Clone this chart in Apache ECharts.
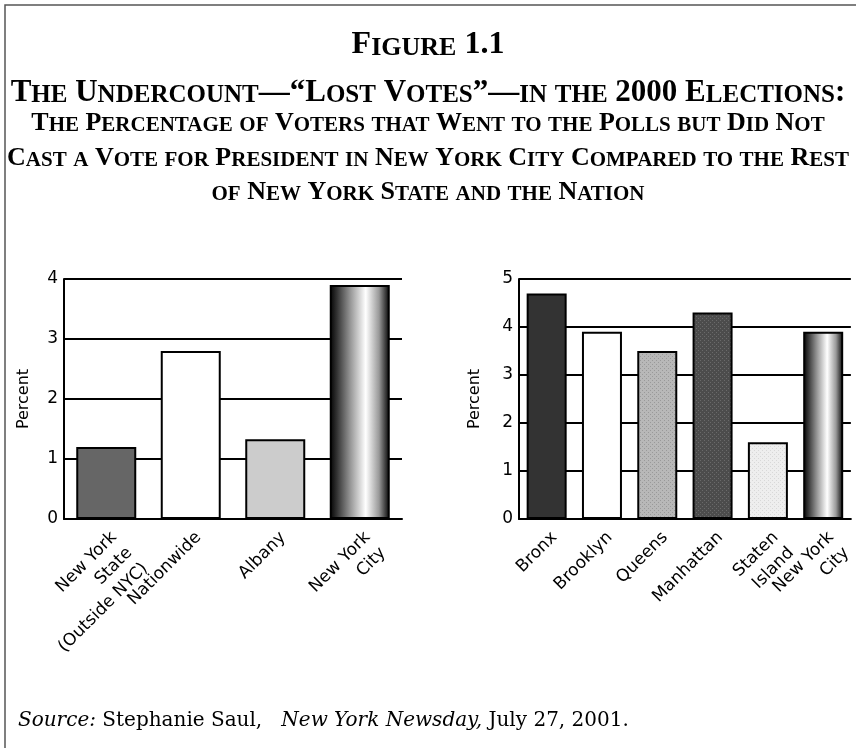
<!DOCTYPE html>
<html>
<head>
<meta charset="utf-8">
<script src="https://cdn.jsdelivr.net/npm/echarts@6/dist/echarts.min.js"></script>
<style>
  html, body { margin: 0; padding: 0; background: #fff; }
  #chart { width: 856px; height: 748px; }
</style>
</head>
<body>
<div id="chart"></div>
<script>
// left panel: state / nation comparison
const stateCats = ['New York\nState\n(Outside NYC)', 'Nationwide', 'Albany', 'New York\nCity'];
const stateVals = [1.2, 2.8, 1.33, 3.9];

// right panel: the five boroughs and the city
const boroCats = ['Bronx', 'Brooklyn', 'Queens', 'Manhattan', 'Staten\nIsland', 'New York\nCity'];
const boroVals = [4.7, 3.9, 3.5, 4.3, 1.6, 3.9];

const leftTicks = [0, 4];
const rightTicks = [0, 5];

const titleLines = [
  'Figure 1.1',
  'The Undercount\u2014\u201cLost Votes\u201d\u2014in the 2000 Elections:',
  'The Percentage of Voters that Went to the Polls but Did Not',
  'Cast a Vote for President in New York City Compared to the Rest',
  'of New York State and the Nation'
];

const chart = echarts.init(document.getElementById('chart'));

// fake small caps with rich text: lower case letters drawn as smaller capitals
function smallCaps(s) {
  let out = '', cur = null, buf = '';
  for (const ch of s) {
    const st = (ch >= 'a' && ch <= 'z') ? 's' : 'c';
    if (st !== cur) {
      if (buf) out += '{' + cur + '|' + buf + '}';
      buf = ''; cur = st;
    }
    buf += st === 's' ? ch.toUpperCase() : ch;
  }
  if (buf) out += '{' + cur + '|' + buf + '}';
  return out;
}

function capsRich(size) {
  const base = { fontFamily: 'Liberation Serif', fontWeight: 'bold', color: '#000', verticalAlign: 'bottom' };
  return {
    c: Object.assign({}, base, { fontSize: size, lineHeight: size }),
    s: Object.assign({}, base, { fontSize: Math.round(size * 0.8), lineHeight: Math.round(size * 0.8) })
  };
}

function pattern(bg, fg) {
  const c = document.createElement('canvas');
  c.width = c.height = 4;
  const g = c.getContext('2d');
  g.fillStyle = bg; g.fillRect(0, 0, 4, 4);
  g.fillStyle = fg;
  g.fillRect(0, 0, 1, 1); g.fillRect(2, 2, 1, 1);
  return { image: c, repeat: 'repeat' };
}

const cylinder = new echarts.graphic.LinearGradient(0, 0, 1, 0, [
  { offset: 0, color: '#000' },
  { offset: 0.12, color: '#333' },
  { offset: 0.35, color: '#999' },
  { offset: 0.6, color: '#fff' },
  { offset: 0.82, color: '#999' },
  { offset: 1, color: '#000' }
]);

const stateFills = ['#666666', '#ffffff', '#cccccc', cylinder];
const boroFills = ['#333333', '#ffffff', pattern('#b8b8b8', '#999999'), pattern('#4c4c4c', '#6a6a6a'), pattern('#eeeeee', '#d8d8d8'), cylinder];

const titleTops = [29, 77, 110, 145, 179];
const titleSizes = [32, 31, 26, 26, 26];

const titles = titleLines.map((t, i) => ({
  text: smallCaps(t),
  left: 'center',
  top: titleTops[i],
  padding: 0,
  textStyle: { rich: capsRich(titleSizes[i]) }
}));
titles.push({
  text: '{i|Source:} Stephanie Saul,   {i|New York Newsday,} July 27, 2001.',
  left: 18,
  top: 711,
  padding: 0,
  textStyle: {
    fontFamily: 'DejaVu Serif', fontWeight: 'normal', fontSize: 20, lineHeight: 20, color: '#000',
    rich: { i: { fontFamily: 'DejaVu Serif', fontStyle: 'italic', fontSize: 20, lineHeight: 20, color: '#000' } }
  }
});

const axisFont = { fontFamily: 'DejaVu Sans', color: '#000' };
const blackLine = { lineStyle: { color: '#000', width: 2 } };

function xAxisFor(idx, cats) {
  return {
    type: 'category',
    gridIndex: idx,
    data: cats,
    axisLine: blackLine,
    axisTick: { show: false },
    axisLabel: Object.assign({ rotate: 45, interval: 0, fontSize: 17, lineHeight: 22, margin: 8, verticalAlign: 'top' }, axisFont)
  };
}

function yAxisFor(idx, ticks, gap) {
  return {
    type: 'value',
    gridIndex: idx,
    min: ticks[0],
    max: ticks[1],
    interval: 1,
    name: 'Percent',
    nameLocation: 'middle',
    nameGap: gap,
    nameTextStyle: Object.assign({ fontSize: 16 }, axisFont),
    axisLine: Object.assign({ show: true }, blackLine),
    axisTick: { show: false },
    axisLabel: Object.assign({ fontSize: 17, margin: 6 }, axisFont),
    splitLine: blackLine
  };
}

chart.setOption({
  animation: false,
  backgroundColor: '#fff',
  title: titles,
  graphic: [
    { type: 'polyline', shape: { points: [[5, 748], [5, 5], [856, 5]] }, style: { stroke: '#555', lineWidth: 1.5, fill: null } }
  ],
  grid: [
    { left: 64, top: 279, width: 338, height: 240 },
    { left: 519, top: 279, right: 0, height: 240 }
  ],
  xAxis: [xAxisFor(0, stateCats), xAxisFor(1, boroCats)],
  yAxis: [yAxisFor(0, leftTicks, 32), yAxisFor(1, rightTicks, 36)],
  series: [
    {
      type: 'bar',
      xAxisIndex: 0,
      yAxisIndex: 0,
      barWidth: 60,
      data: stateVals.map((v, i) => ({ value: v, itemStyle: { color: stateFills[i] } })),
      itemStyle: { borderColor: '#000', borderWidth: 2 }
    },
    {
      type: 'bar',
      xAxisIndex: 1,
      yAxisIndex: 1,
      barWidth: 40,
      data: boroVals.map((v, i) => ({ value: v, itemStyle: { color: boroFills[i] } })),
      itemStyle: { borderColor: '#000', borderWidth: 2 }
    }
  ]
});
</script>
</body>
</html>
